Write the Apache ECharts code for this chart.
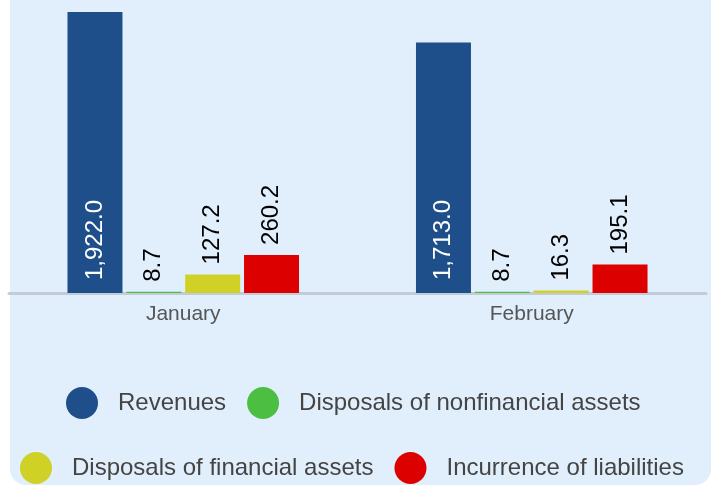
<!DOCTYPE html>
<html lang="en">
<head>
    <meta charset="utf-8">
    <title>Document</title>
    <script src="https://cdn.jsdelivr.net/npm/echarts@6/dist/echarts.min.js"></script>
    <style>
        body { margin: 0; background: #fff; }
        #panel { position: absolute; left: 10px; top: -20px; width: 701px; height: 505px;
                 background: #e1effc; border-radius: 16px; }
        #pic1 { position: absolute; left: 0; top: 0; width: 716px; height: 485px; }
    </style>
</head>
<body>
<div id="panel"></div>
<div id="pic1"></div>

<script>
    // data
    var months = ['January', 'February'];
    var revenues = [1922.0, 1713.0];
    var nonfinancial = [8.7, 8.7];
    var financial = [127.2, 16.3];
    var liabilities = [260.2, 195.1];

    var fmt = new Intl.NumberFormat('en-US', {minimumFractionDigits: 1, maximumFractionDigits: 1});

    window.onload = function () {
        var mCharts = echarts.init(document.getElementById('pic1'));

        // label above the bar, turned upright
        function topLabel() {
            return {
                show: true,
                position: 'top',
                rotate: 90,
                align: 'left',
                verticalAlign: 'middle',
                distance: 10,
                color: '#000',
                fontSize: 24,
                fontFamily: 'Liberation Sans, Arial, sans-serif',
                formatter: function (p) { return fmt.format(p.value); }
            };
        }

        var legendText = {
            fontSize: 24,
            color: '#444',
            fontFamily: 'Liberation Sans, Arial, sans-serif',
            padding: [0, 0, 0, 15]
        };

        var option = {
            animation: false,
            backgroundColor: 'transparent',
            grid: { left: 9, right: 10, top: 12, bottom: 192 },
            legend: [
                {
                    data: ['Revenues', 'Disposals of nonfinancial assets'],
                    left: 66, top: 387, padding: 0,
                    icon: 'circle', itemWidth: 32, itemHeight: 32, itemGap: 21,
                    textStyle: legendText
                },
                {
                    data: ['Disposals of financial assets', 'Incurrence of liabilities'],
                    left: 20, top: 452, padding: 0,
                    icon: 'circle', itemWidth: 32, itemHeight: 32, itemGap: 21,
                    textStyle: legendText
                }
            ],
            xAxis: {
                type: 'category',
                data: months,
                axisLine: { lineStyle: { color: '#c3ccd6', width: 3 } },
                axisTick: { show: false },
                axisLabel: {
                    color: '#555',
                    fontSize: 21,
                    margin: 11,
                    fontFamily: 'Liberation Sans, Arial, sans-serif'
                }
            },
            yAxis: {
                type: 'value',
                min: 0,
                max: 1922,
                show: false,
                splitLine: { show: false }
            },
            series: [
                {
                    name: 'Revenues',
                    type: 'bar',
                    data: revenues,
                    barWidth: 55,
                    barGap: '7%',
                    itemStyle: { color: '#1f4f8a' },
                    label: {
                        show: true,
                        position: 'insideBottom',
                        rotate: 90,
                        align: 'left',
                        verticalAlign: 'middle',
                        distance: 13,
                        color: '#fff',
                        fontSize: 24,
                        fontFamily: 'Liberation Sans, Arial, sans-serif',
                        formatter: function (p) { return fmt.format(p.value); }
                    }
                },
                {
                    name: 'Disposals of nonfinancial assets',
                    type: 'bar',
                    data: nonfinancial,
                    barWidth: 55,
                    barGap: '7%',
                    itemStyle: { color: '#4cbf43' },
                    label: topLabel()
                },
                {
                    name: 'Disposals of financial assets',
                    type: 'bar',
                    data: financial,
                    barWidth: 55,
                    barGap: '7%',
                    itemStyle: { color: '#cfd127' },
                    label: topLabel()
                },
                {
                    name: 'Incurrence of liabilities',
                    type: 'bar',
                    data: liabilities,
                    barWidth: 55,
                    barGap: '7%',
                    itemStyle: { color: '#dd0000' },
                    label: topLabel()
                }
            ]
        };

        mCharts.setOption(option);
    };
</script>

</body>
</html>
